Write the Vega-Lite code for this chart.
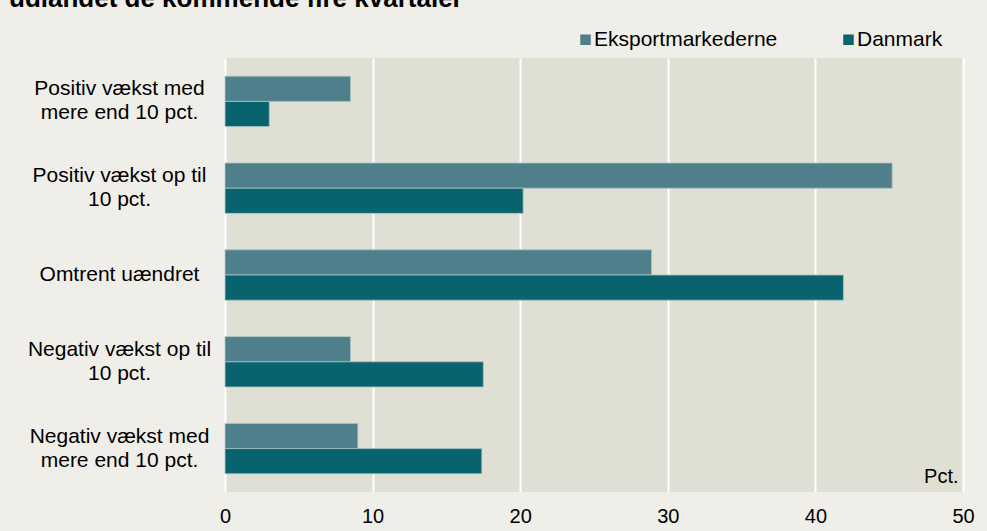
{
  "$schema": "https://vega.github.io/schema/vega-lite/v6.json",
  "width": 738,
  "height": 434,
  "autosize": {"type": "none"},
  "padding": {"left": 225, "top": 58, "right": 24, "bottom": 39},
  "background": "#efeee8",
  "title": {
    "text": "udlandet de kommende fire kvartaler",
    "anchor": "start",
    "frame": "group",
    "dx": -216,
    "dy": 3,
    "offset": 20,
    "fontSize": 26,
    "fontWeight": "bold",
    "font": "Liberation Sans",
    "color": "#000000"
  },
  "data": {
    "values": [
      {"kategori": "Positiv vækst med|mere end 10 pct.", "serie": "Eksportmarkederne", "pct": 8.5},
      {"kategori": "Positiv vækst med|mere end 10 pct.", "serie": "Danmark", "pct": 3.0},
      {"kategori": "Positiv vækst op til|10 pct.", "serie": "Eksportmarkederne", "pct": 45.2},
      {"kategori": "Positiv vækst op til|10 pct.", "serie": "Danmark", "pct": 20.2},
      {"kategori": "Omtrent uændret", "serie": "Eksportmarkederne", "pct": 28.9},
      {"kategori": "Omtrent uændret", "serie": "Danmark", "pct": 41.9},
      {"kategori": "Negativ vækst op til|10 pct.", "serie": "Eksportmarkederne", "pct": 8.5},
      {"kategori": "Negativ vækst op til|10 pct.", "serie": "Danmark", "pct": 17.5},
      {"kategori": "Negativ vækst med|mere end 10 pct.", "serie": "Eksportmarkederne", "pct": 9.0},
      {"kategori": "Negativ vækst med|mere end 10 pct.", "serie": "Danmark", "pct": 17.4}
    ]
  },
  "mark": {"type": "bar", "stroke": "#a9c4c4", "strokeWidth": 0.8},
  "encoding": {
    "y": {
      "field": "kategori",
      "type": "nominal",
      "sort": null,
      "scale": {"paddingInner": 0.42, "paddingOuter": 0.21},
      "axis": {
        "title": null,
        "ticks": false,
        "domain": false,
        "labelExpr": "split(datum.label, '|')",
        "labelAlign": "center",
        "labelPadding": 106,
        "labelLineHeight": 24,
        "labelOffset": {"condition": {"test": "indexof(datum.value, '|') >= 0", "value": -12}, "value": 0},
        "labelFontSize": 21,
        "labelFont": "Liberation Sans",
        "labelColor": "#000000",
        "labelLimit": 300
      }
    },
    "yOffset": {
      "field": "serie",
      "type": "nominal",
      "sort": ["Eksportmarkederne", "Danmark"],
      "scale": {"paddingInner": 0}
    },
    "x": {
      "field": "pct",
      "type": "quantitative",
      "scale": {"domain": [0, 50], "nice": false},
      "axis": {
        "values": [0, 10, 20, 30, 40, 50],
        "title": "Pct.",
        "titleAnchor": "end",
        "titleAlign": "right",
        "titleBaseline": "bottom",
        "titleX": 733,
        "titleY": -6,
        "titleFontWeight": "normal",
        "titleFontSize": 20,
        "titleFont": "Liberation Sans",
        "titleColor": "#000000",
        "ticks": false,
        "domain": false,
        "grid": true,
        "gridColor": "#ffffff",
        "gridWidth": 2,
        "labelPadding": 14,
        "labelFontSize": 20,
        "labelFont": "Liberation Sans",
        "labelColor": "#000000",
        "labelFlush": false
      }
    },
    "color": {
      "field": "serie",
      "type": "nominal",
      "sort": ["Eksportmarkederne", "Danmark"],
      "scale": {"domain": ["Eksportmarkederne", "Danmark"], "range": ["#4e7f8a", "#08636f"]},
      "legend": {
        "title": null,
        "orient": "none",
        "direction": "horizontal",
        "legendX": 350,
        "legendY": -29,
        "symbolType": "square",
        "symbolSize": 110,
        "symbolStrokeWidth": 0,
        "labelFontSize": 21,
        "labelFont": "Liberation Sans",
        "labelColor": "#000000",
        "labelOffset": -2,
        "labelLimit": 400,
        "columnPadding": 60
      }
    }
  },
  "config": {
    "view": {"fill": "#e0dfd4", "stroke": null}
  }
}
